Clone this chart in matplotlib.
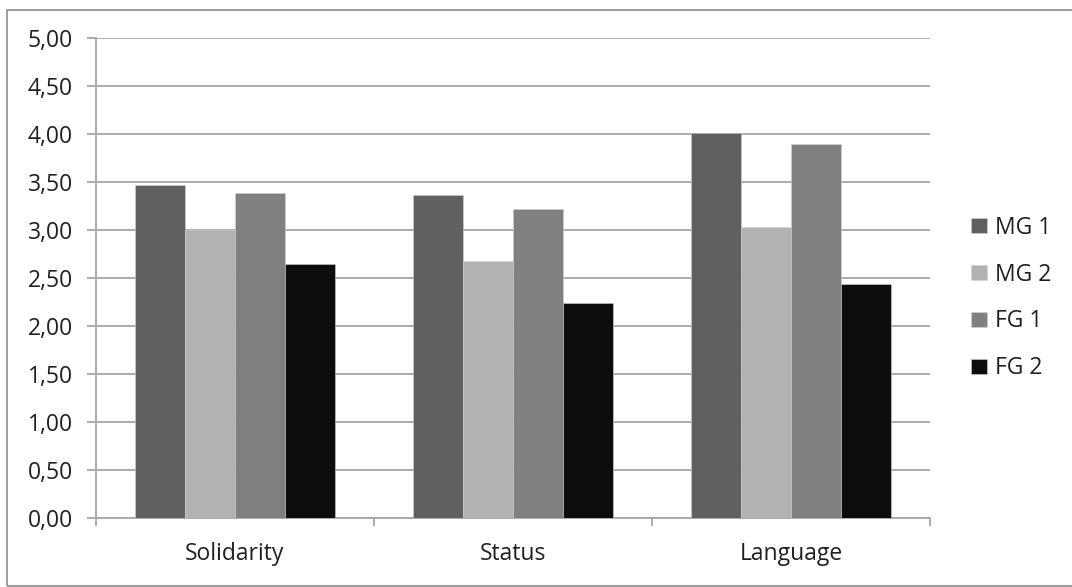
import numpy as np
import matplotlib
matplotlib.use("Agg")
import matplotlib.pyplot as plt
from matplotlib.patches import Rectangle
from matplotlib.ticker import FuncFormatter, MultipleLocator

plt.rcParams['font.family'] = ['Open Sans', 'DejaVu Sans']

categories = ["Solidarity", "Status", "Language"]
groups = ["MG 1", "MG 2", "FG 1", "FG 2"]
mg1 = [3.47, 3.36, 4.01]
mg2 = [3.00, 2.68, 3.03]
fg1 = [3.39, 3.22, 3.90]
fg2 = [2.65, 2.24, 2.44]
series = [mg1, mg2, fg1, fg2]
colors = ["#606060", "#b2b2b2", "#808080", "#0d0d0d"]

W, H = 1072, 587
fig = plt.figure(figsize=(W / 100, H / 100), dpi=100)
ax = fig.add_axes([96 / W, (H - 517.5) / H, (930 - 96) / W, (517.5 - 38.3) / H])

x = np.arange(len(categories))
bw = 0.18
for i, (vals, c, lab) in enumerate(zip(series, colors, groups)):
    ax.bar(x + (i - 1.5) * bw, vals, bw, color=c, label=lab,
           edgecolor="#d0d0d0", linewidth=0.4, zorder=3)

grid_c = "#a6a6a6"
txt_c = "#202020"
fs = 16.5
ax.set_xlim(-0.5, 2.5)
ax.set_ylim(0, 5)
ax.yaxis.set_major_locator(MultipleLocator(0.5))
ax.yaxis.set_major_formatter(FuncFormatter(lambda v, p: f"{v:.2f}".replace(".", ",")))
ax.grid(axis="y", color=grid_c, linewidth=1.3, zorder=0)
ax.set_axisbelow(True)

# category labels centred, ticks on the group boundaries
ax.set_xticks(x)
ax.set_xticklabels(categories)
ax.set_xticks([-0.5, 0.5, 1.5, 2.5], minor=True)
ax.tick_params(axis="x", which="major", length=0, pad=18, labelsize=fs, labelcolor=txt_c)
ax.tick_params(axis="x", which="minor", length=6, width=1.3, color=grid_c)
ax.tick_params(axis="y", length=6.5, width=1.3, color=grid_c, pad=10,
               labelsize=fs, labelcolor=txt_c)

for s in ["top", "right"]:
    ax.spines[s].set_visible(False)
for s in ["left", "bottom"]:
    ax.spines[s].set_color(grid_c)
    ax.spines[s].set_linewidth(1.3)

leg = ax.legend(loc="center left", bbox_to_anchor=(950 / W, (H - 298) / H),
                bbox_transform=fig.transFigure, frameon=False, fontsize=fs,
                handlelength=0.7, handleheight=0.65, handletextpad=0.35,
                labelspacing=1.0, labelcolor=txt_c)

# outer chart border
fig.patches.append(Rectangle((7 / W, 1 / H), 1.2, (586 - 10) / H,
                             transform=fig.transFigure, fill=False,
                             edgecolor="#8c8c8c", linewidth=1.2))

fig.savefig("out.png", dpi=100)
